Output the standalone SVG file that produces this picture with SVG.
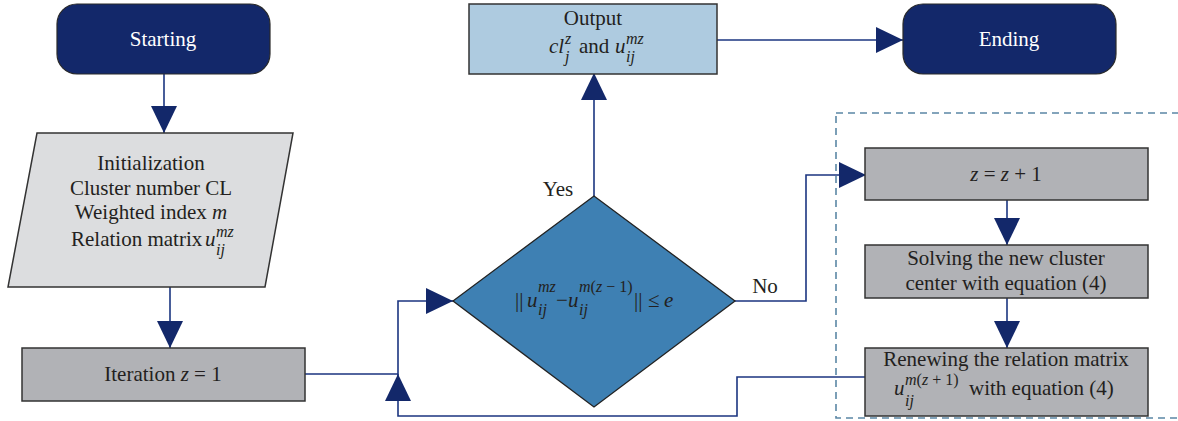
<svg xmlns="http://www.w3.org/2000/svg" width="1178" height="421" viewBox="0 0 1178 421">
<defs>
<marker id="arr" markerUnits="userSpaceOnUse" markerWidth="28" markerHeight="28" refX="27" refY="13" orient="auto">
<path d="M0,0 L27,13 L0,26 Z" fill="#13286a"/>
</marker>
</defs>
<style>
text{font-size:21px;fill:#231f20}
.w{fill:#ffffff}
.i{font-style:italic}
.s{font-size:16px;font-style:italic}
.n{font-style:normal}
.c{text-anchor:middle}
.term{fill:#13286a;stroke:#2a2a2a;stroke-width:1.2}
.gray{fill:#b1b2b6;stroke:#333;stroke-width:1.5}
.conn{fill:none;stroke:#1b3580;stroke-width:1.6}
</style>
<rect x="836" y="113" width="360" height="305" fill="none" stroke="#5b87a5" stroke-width="1.6" stroke-dasharray="7,5"/>
<g id="connectors">
<path class="conn" d="M164,74 V133" marker-end="url(#arr)"/>
<path class="conn" d="M170,287 V348" marker-end="url(#arr)"/>
<path class="conn" d="M305,374 H398 V301 H453" marker-end="url(#arr)"/>
<path class="conn" d="M866,377 H737 V416 H398 V374" marker-end="url(#arr)"/>
<path class="conn" d="M594,196 V73" marker-end="url(#arr)"/>
<path class="conn" d="M717,40 H903" marker-end="url(#arr)"/>
<path class="conn" d="M735,301 H806 V175 H866" marker-end="url(#arr)"/>
<path class="conn" d="M1007,200 V245" marker-end="url(#arr)"/>
<path class="conn" d="M1007,298 V348" marker-end="url(#arr)"/>
<text font-family="Liberation Serif" x="558" y="196" class="c">Yes</text>
<text font-family="Liberation Serif" x="765" y="293" class="c">No</text>
</g>
<g id="starting">
<rect x="57" y="4" width="213" height="70" rx="20" class="term"/>
<text font-family="Liberation Serif" x="163" y="46" class="c w">Starting</text>
</g>
<g id="ending">
<rect x="903" y="4" width="213" height="70" rx="20" class="term"/>
<text font-family="Liberation Serif" x="1009" y="46" class="c w">Ending</text>
</g>
<g id="init">
<polygon points="37,133 293,133 265,287 8,287" fill="#dcdddf" stroke="#333" stroke-width="1.5"/>
<text font-family="Liberation Serif" x="151" y="170" class="c">Initialization</text>
<text font-family="Liberation Serif" x="151" y="195" class="c">Cluster number CL</text>
<text font-family="Liberation Serif" x="151" y="219" class="c">Weighted index <tspan class="i">m</tspan></text>
<text font-family="Liberation Serif" x="71" y="246">Relation matrix<tspan x="205" class="i">u</tspan><tspan x="216" y="237" class="s">mz</tspan><tspan x="216" y="255" class="s">ij</tspan></text>
</g>
<g id="iteration">
<rect x="22" y="348" width="283" height="53" class="gray"/>
<text font-family="Liberation Serif" x="163" y="381" class="c">Iteration <tspan class="i">z</tspan> = 1</text>
</g>
<g id="decision">
<polygon points="453,301 594,196 735,301 594,407" fill="#3e80b3" stroke="#222" stroke-width="1.3"/>
<text font-family="Liberation Serif" x="515" y="307">||<tspan x="527" class="i">u</tspan><tspan x="538" y="292" class="s">mz</tspan><tspan x="538" y="315" class="s">ij</tspan><tspan x="556" y="307">−</tspan><tspan x="568" class="i">u</tspan><tspan x="579" y="292" class="s">m<tspan class="n">(</tspan>z<tspan class="n"> − 1)</tspan></tspan><tspan x="579" y="315" class="s">ij</tspan><tspan x="634" y="307">||</tspan><tspan x="648">≤</tspan><tspan x="664" class="i">e</tspan></text>
</g>
<g id="output">
<rect x="469" y="4" width="248" height="70" fill="#aecbe0" stroke="#333" stroke-width="1.5"/>
<text font-family="Liberation Serif" x="593" y="25" class="c">Output</text>
<text font-family="Liberation Serif" x="549" y="53" class="i">cl<tspan x="565" y="44" class="s">z</tspan><tspan x="565" y="62" class="s">j</tspan><tspan x="579" y="53" class="n">and</tspan><tspan x="615">u</tspan><tspan x="626" y="44" class="s">mz</tspan><tspan x="626" y="62" class="s">ij</tspan></text>
</g>
<g id="increment">
<rect x="865" y="148" width="283" height="52" class="gray"/>
<text font-family="Liberation Serif" x="1006" y="181" class="c"><tspan class="i">z</tspan> = <tspan class="i">z</tspan> + 1</text>
</g>
<g id="solving">
<rect x="865" y="245" width="283" height="53" class="gray"/>
<text font-family="Liberation Serif" x="1006" y="265" class="c">Solving the new cluster</text>
<text font-family="Liberation Serif" x="1006" y="290" class="c">center with equation (4)</text>
</g>
<g id="renewing">
<rect x="865" y="348" width="283" height="68" class="gray"/>
<text font-family="Liberation Serif" x="1006" y="366" class="c">Renewing the relation matrix</text>
<text font-family="Liberation Serif" x="894" y="395" class="i">u<tspan x="905" y="385" class="s">m<tspan class="n">(</tspan>z<tspan class="n"> + 1)</tspan></tspan><tspan x="905" y="406" class="s">ij</tspan><tspan x="969" y="395" class="n">with equation (4)</tspan></text>
</g>
</svg>
